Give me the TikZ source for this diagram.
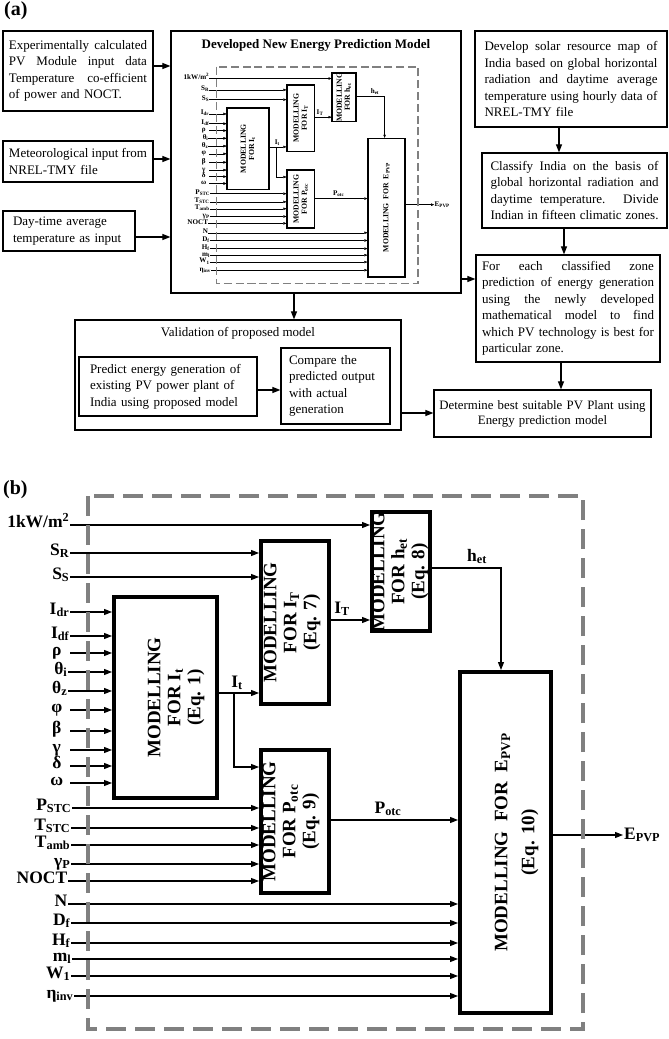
\documentclass[tikz,border=0pt]{standalone}
\usepackage{fontspec}
\setmainfont{Liberation Serif}
\usetikzlibrary{arrows.meta}
\definecolor{dgray}{RGB}{128,128,128}
\newif\ifshoweq
\newcommand\jl[1]{{\spaceskip=0pt\xspaceskip=0pt\makebox[\hsize][s]{#1}}\\}
\newcommand\jlast[1]{{\spaceskip=0pt\xspaceskip=0pt\makebox[\hsize][s]{#1}}}
\newcommand\eqn[2][0pt]{\ifshoweq\\[#1](Eq. #2)\fi}
\newcommand\setdiag[1]{%
  \pgfmathsetmacro\dtmp{4*#1}\edef\dboxlw{\dtmp pt}%
  \pgfmathsetmacro\dtmp{1.1*#1}\edef\dthin{\dtmp pt}%
  \pgfmathsetmacro\dtmp{4*#1}\edef\ddashlw{\dtmp pt}%
  \pgfmathsetmacro\dtmp{20*#1}\edef\ddon{\dtmp pt}%
  \pgfmathsetmacro\dtmp{9*#1}\edef\ddoff{\dtmp pt}%
  \pgfmathsetmacro\dtmp{8*#1}\edef\dal{\dtmp pt}%
  \pgfmathsetmacro\dtmp{6*#1}\edef\daw{\dtmp pt}%
}
\tikzset{
  mbox/.style={draw, line width=\dboxlw, inner sep=0pt},
  mtext/.style={rotate=90, align=center, inner sep=0pt, font=\fontsize{19}{20}\selectfont\bfseries},
  inl/.style={anchor=mid east, inner sep=0.5pt, font=\fontsize{17.5}{18}\selectfont\bfseries},
  gl/.style={inl, minimum width=26pt},
  olbl/.style={inner sep=1pt, font=\fontsize{17.5}{18}\selectfont\bfseries},
  darr/.style={line width=\dthin, -{Triangle[length=\dal, width=\daw]}},
  dbox/.style={draw=dgray, line width=\ddashlw, dash pattern=on \ddon off \ddoff},
  abox/.style={draw, line width=1.2pt, inner ysep=0pt, font=\fontsize{13}{16.5}\selectfont},
  aarr/.style={line width=1.1pt, -{Triangle[length=8pt, width=6pt]}},
  plbl/.style={inner sep=0pt, anchor=west, font=\fontsize{20}{22}\selectfont\bfseries},
}
\newcommand\drawmodel{%
  \node[mbox, minimum width=103pt, minimum height=201pt] (It) at (77.5,201.5) {};
  \node[mbox, minimum width=68pt, minimum height=163pt] (IT) at (207,126.5) {};
  \node[mbox, minimum width=58pt, minimum height=119pt] (het) at (313,75.5) {};
  \node[mbox, minimum width=68pt, minimum height=143pt] (Potc) at (207,325.5) {};
  \node[mbox, minimum width=91pt, minimum height=341pt] (E) at (417.5,346.5) {};
  \node[mtext] (Itt) at ({77.5+\oIt},201.5) {MODELLING\\FOR I\textsubscript{t}\eqn{1}};
  \node[mtext] (ITt) at ({207+\oIT},126.5) {MODELLING\\FOR I\textsubscript{T}\eqn{7}};
  \node[mtext] (hett) at ({313+\ohet},75.5) {MODELLING\\FOR h\textsubscript{et}\eqn{8}};
  \node[mtext] (Potct) at ({207+\oPotc},325.5) {MODELLING\\FOR P\textsubscript{otc}\eqn{9}};
  \node[mtext] (Et) at ({417.5+\oE},346.5) {MODELLING\ \ FOR\ \ E\textsubscript{PVP}\eqn[7pt]{10}};
  % input labels
  \node[inl] (kW) at (-18,29) {1kW/m\textsuperscript{2}};
  \node[inl] (SR) at (-18,57) {S\textsubscript{R}};
  \node[inl] (SS) at (-18,81) {S\textsubscript{S}};
  \node[inl] (Idr) at (-18,116) {I\textsubscript{dr}};
  \node[inl] (Idf) at (-18,140) {I\textsubscript{df}};
  \node[gl] (rho) at (-18,157) {ρ};
  \node[inl] (thi) at (-20,176) {θ\textsubscript{i}};
  \node[inl] (thz) at (-20,195) {θ\textsubscript{z}};
  \node[gl] (phi) at (-18,214) {φ};
  \node[gl] (bet) at (-18,235) {β};
  \node[gl] (gam) at (-18,254) {γ};
  \node[gl] (del) at (-18,270) {δ};
  \node[gl] (omg) at (-18,287) {ω};
  \node[inl] (Pstc) at (-16,312) {P\textsubscript{STC}};
  \node[inl] (Tstc) at (-17,332) {T\textsubscript{STC}};
  \node[inl] (Tamb) at (-17,349) {T\textsubscript{amb}};
  \node[inl] (gP) at (-17,368) {γ\textsubscript{P}};
  \node[inl] (NOCT) at (-20,385) {NOCT};
  \node[inl] (N) at (-20,408) {N};
  \node[inl] (Df) at (-17,427) {D\textsubscript{f}};
  \node[inl] (Hf) at (-17,447) {H\textsubscript{f}};
  \node[inl] (ml) at (-16,463) {m\textsubscript{l}};
  \node[inl] (Wl) at (-17,480) {W\textsubscript{1}};
  \node[inl] (eta) at (-14,500) {η\textsubscript{inv}};
  \foreach \nm/\tg in {kW/het,SR/IT,SS/IT,Idr/It,Idf/It,rho/It,thi/It,thz/It,phi/It,bet/It,gam/It,del/It,omg/It,Pstc/Potc,Tstc/Potc,Tamb/Potc,gP/Potc,NOCT/Potc,N/E,Df/E,Hf/E,ml/E,Wl/E,eta/E}
    \draw[darr] (\nm.mid east) -- (\nm.mid east -| \tg.west);
  % internal connectors
  \coordinate (jIt) at (146,197);
  \draw[darr] (It.east |- jIt) -- (IT.west |- jIt);
  \draw[darr] (jIt) |- (Potc.west |- 0,271);
  \node[olbl, anchor=south] (lIt) at (149,195) {I\textsubscript{t}};
  \draw[darr] (IT.east |- 0,124) -- (het.west |- 0,124);
  \node[olbl, anchor=south] (lIT) at (254,121) {I\textsubscript{T}};
  \coordinate (hE) at (413,72);
  \draw[darr] (het.east |- hE) -| (E.north -| hE);
  \node[olbl, anchor=south] (lhet) at (389,69) {h\textsubscript{et}};
  \draw[darr] (Potc.east |- 0,324) -- (E.west |- 0,324);
  \node[olbl, anchor=south] (lPotc) at (300,321) {P\textsubscript{otc}};
  \coordinate (Eo) at (535,339);
  \draw[darr] (E.east |- Eo) -- (Eo);
  \node[olbl, anchor=west] (lE) at (Eo) {E\textsubscript{PVP}};
  % dashed frame
  \draw[dbox] (0,0) rectangle (495,533);
}
\begin{document}
\begin{tikzpicture}[x=1pt,y=-1pt]
\useasboundingbox (0,0) rectangle (669,1039);
% ---------- (a) ----------
\node[plbl] (la) at (4,11) {(a)};
\node[abox, text width=138pt, inner xsep=6pt, minimum height=80pt, align=left] (A1) at (78,71)
  {\jl{Experimentally calculated}\jl{PV Module input data}\jl{Temperature co-efficient}of power and NOCT.};
\node[abox, text width=138pt, inner xsep=6pt, minimum height=41pt, align=left] (A2) at (78,161.5)
  {\jl{Meteorological input from}NREL-TMY file};
\node[abox, text width=112pt, inner xsep=10pt, minimum height=40pt, align=left] (A3) at (69,231)
  {Day-time average\\temperature as input};
\node[abox, minimum width=290pt, minimum height=262pt] (M) at (316,162) {};
\node[inner sep=0pt, anchor=base, font=\fontsize{13}{15}\selectfont\bfseries] (Mt) at (316,48) {Developed New Energy Prediction Model};
\draw[aarr] (A1.east |- 0,66) -- (M.west |- 0,66);
\draw[aarr] (A2.east |- 0,159) -- (M.west |- 0,159);
\draw[aarr] (A3.east |- 0,237) -- (M.west |- 0,237);
\node[abox, text width=173pt, inner xsep=9.5pt, minimum height=96pt, align=left] (R1) at (571,79)
  {\jl{Develop solar resource map of}\jl{India based on global horizontal}\jl{radiation and daytime average}\jl{temperature using hourly data of}NREL-TMY file};
\node[abox, text width=168pt, inner xsep=8.5pt, minimum height=75pt, align=left] (R2) at (574.5,190.5)
  {\jl{Classify India on the basis of}\jl{global horizontal radiation and}\jl{daytime temperature. Divide}\jlast{Indian in fifteen climatic zones.}};
\node[abox, text width=172pt, inner xsep=6pt, minimum height=107pt, align=left] (R3) at (568,308.5)
  {\jl{For each classified zone}\jl{prediction of energy generation}\jl{using the newly developed}\jl{mathematical model to find}\jl{which PV technology is best for}particular zone.};
\draw[aarr] (R1.south -| 559,0) -- (R2.north -| 559,0);
\draw[aarr] (R2.south -| 564,0) -- (R3.north -| 564,0);
\draw[aarr] (M.east |- 0,279) -- (R3.west |- 0,279);
\node[abox, minimum width=326pt, minimum height=110pt] (V) at (238,375) {};
\node[inner sep=0pt, anchor=base, font=\fontsize{13}{15}\selectfont] (Vt) at (238,336) {Validation of proposed model};
\node[abox, text width=156pt, inner xsep=11pt, minimum height=59pt, align=left] (P1) at (168,386.5)
  {Predict energy generation of\\existing PV power plant of\\India using proposed model};
\node[abox, text width=93pt, inner xsep=8pt, minimum height=76pt, align=left] (P2) at (335.5,386)
  {Compare the\\predicted output\\with actual\\generation};
\node[abox, text width=211pt, inner xsep=3pt, minimum height=47pt, align=center, font=\fontsize{12.8}{15}\selectfont] (D) at (542.5,413.5)
  {Determine best suitable PV Plant using\\Energy prediction model};
\draw[aarr] (M.south -| 294,0) -- (V.north -| 294,0);
\draw[aarr] (P1.east |- 0,390) -- (P2.west |- 0,390);
\draw[aarr] (V.east |- 0,413) -- (D.west |- 0,413);
\draw[aarr] (R3.south -| 561,0) -- (D.north -| 561,0);
% mini copy inside the main box
\setdiag{0.407}\showeqfalse
\def\oIt{0}\def\oIT{0}\def\ohet{0}\def\oPotc{0}\def\oE{0}
\begin{scope}[shift={(216.5,66.7)}, scale=0.407, transform shape, name prefix=m-]
  \drawmodel
\end{scope}
% ---------- (b) ----------
\node[plbl] (lb) at (3,490) {(b)};
\setdiag{1}\showeqtrue
\def\oIt{10.5}\def\oIT{-3}\def\ohet{-1}\def\oPotc{-4}\def\oE{11}
\begin{scope}[shift={(88,496)}]
  \drawmodel
\end{scope}
\end{tikzpicture}
\end{document}
